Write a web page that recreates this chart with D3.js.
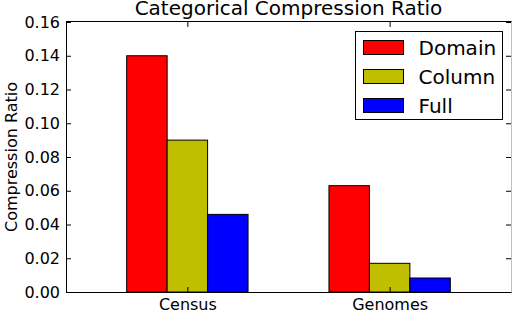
<!DOCTYPE html>
<html>
<head>
  <meta charset="utf-8">
  <title>Categorical Compression Ratio</title>
  <script src="https://d3js.org/d3.v7.min.js"></script>
  <style>
    body { margin: 0; background: white; }
    text { font-family: "DejaVu Sans", sans-serif; fill: #000; }
  </style>
</head>
<body>
<script>
  // Data
  var categories = ["Census", "Genomes"];
  var seriesNames = ["Domain", "Column", "Full"];
  var domainVals = [0.140, 0.063];
  var columnVals = [0.090, 0.017];
  var fullVals = [0.046, 0.0083];
  var yTicks = [0, 0.02, 0.04, 0.06, 0.08, 0.10, 0.12, 0.14, 0.16];

  var seriesVals = [domainVals, columnVals, fullVals];
  var colors = ["#ff0000", "#bfbf00", "#0000ff"];
  var barW = 0.2;

  // Consts (plot area edges)
  var width = 512, height = 312;
  var pLeft = 66, pRight = 511, pTop = 22, pBottom = 292;

  var svg = d3.select("body").append("svg")
      .attr("width", width)
      .attr("height", height);

  // Scales
  var x = d3.scaleLinear().domain([-0.6, 1.6]).range([pLeft, pRight]);
  var y = d3.scaleLinear().domain([0, 0.16]).range([pBottom, pTop]);

  // Bars
  var rows = [];
  seriesVals.forEach(function(vals, j) {
    vals.forEach(function(v, i) {
      rows.push({ i: i, j: j, value: v });
    });
  });

  svg.selectAll("rect.bar")
    .data(rows)
    .enter()
    .append("rect")
      .attr("class", "bar")
      .attr("x", function(d) { return x(d.i - 0.3 + d.j * barW); })
      .attr("width", function(d) { return x(barW) - x(0); })
      .attr("y", function(d) { return y(d.value); })
      .attr("height", function(d) { return y(0) - y(d.value); })
      .attr("fill", function(d) { return colors[d.j]; })
      .attr("stroke", "#000")
      .attr("stroke-width", 1);

  // Axes (matplotlib classic, ticks inward)
  var gy = svg.append("g")
      .attr("transform", "translate(" + pLeft + ",0)")
      .call(d3.axisLeft(y).tickValues(yTicks).tickSize(-5).tickPadding(6)
              .tickFormat(d3.format(".2f")));
  gy.select(".domain").remove();
  gy.selectAll("text").style("font-size", "16px").style("font-family", "DejaVu Sans");

  var gyr = svg.append("g")
      .attr("transform", "translate(" + pRight + ",0)")
      .call(d3.axisRight(y).tickValues(yTicks).tickSize(-5).tickFormat(""));
  gyr.select(".domain").remove();

  var gx = svg.append("g")
      .attr("transform", "translate(0," + pBottom + ")")
      .call(d3.axisBottom(x).tickValues([0, 1]).tickSize(-5).tickPadding(7)
              .tickFormat(function(d) { return categories[d]; }));
  gx.select(".domain").remove();
  gx.selectAll("text").style("font-size", "16px").style("font-family", "DejaVu Sans");

  var gxt = svg.append("g")
      .attr("transform", "translate(0," + pTop + ")")
      .call(d3.axisTop(x).tickValues([0, 1]).tickSize(-5).tickFormat(""));
  gxt.select(".domain").remove();

  // Spines
  svg.append("rect")
      .attr("x", pLeft + 0.5)
      .attr("y", pTop - 0.5)
      .attr("width", pRight - pLeft)
      .attr("height", pBottom - pTop + 1)
      .attr("fill", "none")
      .attr("stroke", "#000");
  svg.append("line")
      .attr("x1", pRight + 0.5).attr("x2", pRight + 0.5)
      .attr("y1", pTop - 0.5).attr("y2", pBottom + 0.5)
      .attr("stroke", "#c0c0c0");

  // Title
  svg.append("text")
      .attr("x", (pLeft + pRight) / 2)
      .attr("y", 15)
      .attr("text-anchor", "middle")
      .style("font-size", "20px")
      .text("Categorical Compression Ratio");

  // Y label
  svg.append("text")
      .attr("transform", "translate(17," + (pTop + pBottom) / 2 + ") rotate(-90)")
      .attr("text-anchor", "middle")
      .style("font-size", "16px")
      .text("Compression Ratio");

  // Legend
  var lg = svg.append("g").attr("transform", "translate(355.5,31.5)");
  lg.append("rect")
      .attr("width", 147)
      .attr("height", 88)
      .attr("fill", "#fff")
      .attr("stroke", "#000");
  var items = lg.selectAll("g.item")
      .data(seriesNames)
      .enter()
      .append("g")
      .attr("class", "item")
      .attr("transform", function(d, j) { return "translate(0," + (16 + j * 29) + ")"; });
  items.append("rect")
      .attr("x", 8)
      .attr("y", -7)
      .attr("width", 40)
      .attr("height", 14)
      .attr("fill", function(d, j) { return colors[j]; })
      .attr("stroke", "#000");
  items.append("text")
      .attr("x", 63)
      .attr("dy", "0.36em")
      .style("font-size", "20px")
      .text(function(d) { return d; });
</script>
</body>
</html>
